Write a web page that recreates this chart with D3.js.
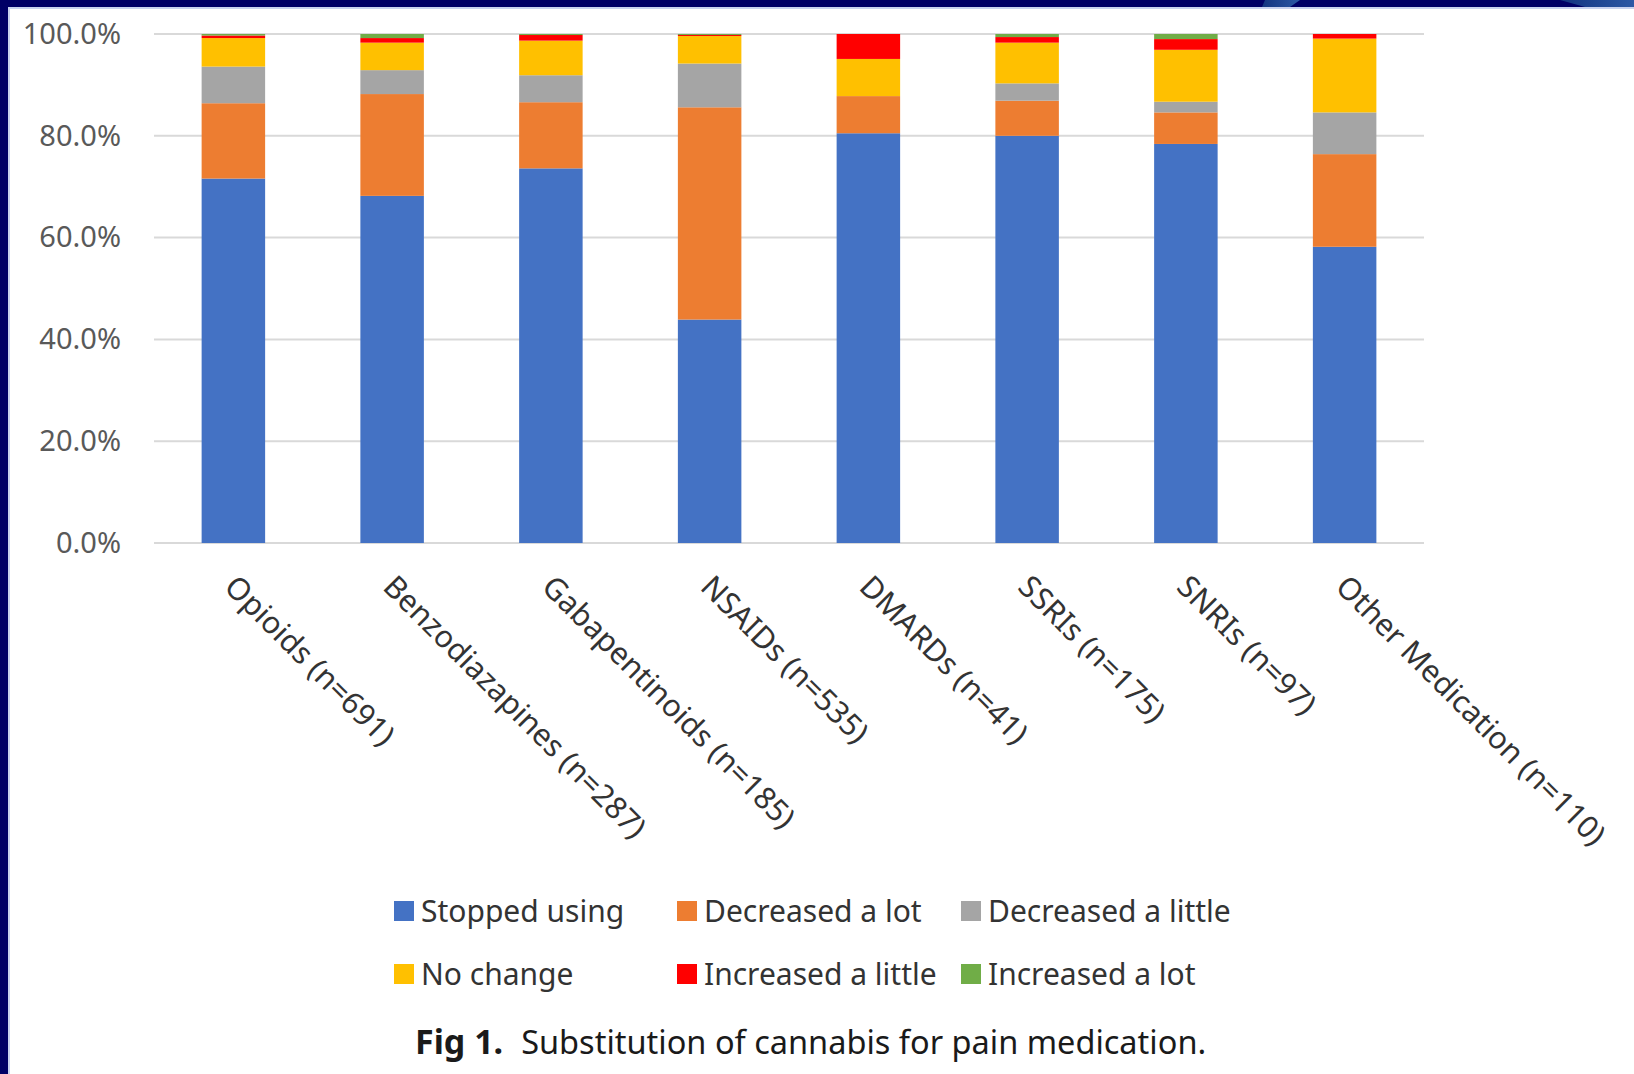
<!DOCTYPE html>
<html>
<head>
<meta charset="utf-8">
<script src="https://cdn.jsdelivr.net/npm/d3@7"></script>
<style>
  body { margin: 0; background: #ffffff; }
  svg { display: block; }
</style>
</head>
<body>
<div id="chart"></div>
<script>
// categories (x axis)
const categories = ["Opioids (n=691)", "Benzodiazapines (n=287)", "Gabapentinoids (n=185)",
    "NSAIDs (n=535)", "DMARDs (n=41)", "SSRIs (n=175)", "SNRIs (n=97)", "Other Medication (n=110)"];

// series names, bottom to top
const seriesNames = ["Stopped using", "Decreased a lot", "Decreased a little",
    "No change", "Increased a little", "Increased a lot"];
const seriesColors = ["#4472c4", "#ed7d31", "#a5a5a5", "#ffc000", "#ff0000", "#70ad47"];

// percentages per category
const stoppedUsing   = [71.6, 68.2, 73.6, 43.9, 80.5, 80.0, 78.4, 58.2];
const decreasedLot   = [14.8, 20.0, 13.0, 41.7, 7.3, 6.9, 6.2, 18.2];
const decreasedLittle = [7.2, 4.7, 5.3, 8.6, 0.0, 3.4, 2.1, 8.2];
const noChange       = [5.6, 5.4, 6.8, 5.4, 7.3, 8.0, 10.2, 14.5];
const increasedLittle = [0.5, 0.9, 1.1, 0.2, 4.9, 1.1, 2.1, 0.9];
const increasedLot   = [0.3, 0.8, 0.2, 0.2, 0.0, 0.6, 1.0, 0.0];

const yTicks = [0, 20, 40, 60, 80, 100];

const legendRows = [
    ["Stopped using", "Decreased a lot", "Decreased a little"],
    ["No change", "Increased a little", "Increased a lot"]
];

function init() {
    const W = 1634, H = 1074;
    const svg = d3.select("#chart").append("svg")
        .attr("width", W).attr("height", H);

    svg.append("rect").attr("width", W).attr("height", H).attr("fill", "#ffffff");

    // slide frame (dark navy top and left edge)
    const grad = svg.append("defs").append("linearGradient").attr("id", "fade")
        .attr("x1", "0").attr("x2", "1");
    grad.append("stop").attr("offset", "0").attr("stop-color", "#1a4a8a");
    grad.append("stop").attr("offset", "1").attr("stop-color", "#3f7fc0");
    svg.append("rect").attr("x", 0).attr("y", 0).attr("width", W).attr("height", 7).attr("fill", "#000066");
    svg.append("rect").attr("x", 0).attr("y", 0).attr("width", 8).attr("height", H).attr("fill", "#000066");
    svg.append("path").attr("d", "M1265,0 L1300,0 L1290,7 L1262,7 Z").attr("fill", "url(#fade)").attr("opacity", 0.7);
    svg.append("path").attr("d", "M1560,0 L1634,0 L1634,7 L1585,7 Z").attr("fill", "url(#fade)").attr("opacity", 0.7);
    svg.append("rect").attr("x", 8).attr("y", 7).attr("width", 2).attr("height", H - 7).attr("fill", "#c9d3ef");
    svg.append("rect").attr("x", 8).attr("y", 7).attr("width", W - 8).attr("height", 2).attr("fill", "#c9d3ef");

    const rows = categories.map(function (c, i) {
        return {
            cat: c,
            "Stopped using": stoppedUsing[i],
            "Decreased a lot": decreasedLot[i],
            "Decreased a little": decreasedLittle[i],
            "No change": noChange[i],
            "Increased a little": increasedLittle[i],
            "Increased a lot": increasedLot[i]
        };
    });

    const x = d3.scaleBand().domain(categories).range([154, 1424]).paddingInner(0.6).paddingOuter(0.3);
    const y = d3.scaleLinear().domain([0, 100]).range([543, 34]);
    const color = d3.scaleOrdinal().domain(seriesNames).range(seriesColors);

    // gridlines
    svg.append("g")
        .selectAll("line")
        .data(yTicks)
        .join("line")
        .attr("x1", 154).attr("x2", 1424)
        .attr("y1", d => y(d)).attr("y2", d => y(d))
        .attr("stroke", "#d9d9d9")
        .attr("stroke-width", 2);

    // y axis labels
    const yAxis = d3.axisLeft(y).tickValues(yTicks)
        .tickFormat(d => d.toFixed(1) + "%").tickSize(0).tickPadding(0);
    const yg = svg.append("g").attr("transform", "translate(121,0)").call(yAxis);
    yg.select(".domain").remove();
    yg.selectAll("text")
        .attr("fill", "#595959")
        .style("font-family", "Noto Sans, sans-serif")
        .style("font-size", "29px");

    // stacked bars
    const stacked = d3.stack().keys(seriesNames)(rows);
    svg.append("g")
        .selectAll("g")
        .data(stacked)
        .join("g")
        .attr("fill", d => color(d.key))
        .selectAll("rect")
        .data(d => d)
        .join("rect")
        .attr("x", d => x(d.data.cat))
        .attr("y", d => y(d[1]))
        .attr("width", x.bandwidth())
        .attr("height", d => Math.max(0, y(d[0]) - y(d[1])));

    // rotated category labels
    svg.append("g")
        .selectAll("text")
        .data(categories)
        .join("text")
        .attr("transform", d => "translate(" + (x(d) + x.bandwidth() / 2 - 3) + ",581) rotate(45)")
        .attr("text-anchor", "start")
        .attr("dy", "0.35em")
        .attr("fill", "#333333")
        .style("font-family", "Noto Sans, sans-serif")
        .style("font-size", "30.5px")
        .text(d => d);

    // legend
    const legendX = [394, 677, 961];
    const legendY = [911, 974];
    legendRows.forEach(function (row, r) {
        const g = svg.append("g");
        g.selectAll("rect")
            .data(row)
            .join("rect")
            .attr("x", (d, i) => legendX[i])
            .attr("y", legendY[r] - 10)
            .attr("width", 20).attr("height", 20)
            .attr("fill", d => color(d));
        g.selectAll("text")
            .data(row)
            .join("text")
            .attr("x", (d, i) => legendX[i] + 27)
            .attr("y", legendY[r])
            .attr("dy", "0.35em")
            .attr("fill", "#333333")
            .style("font-family", "Noto Sans, sans-serif")
            .style("font-size", "30px")
            .text(d => d);
    });

    // caption
    const cap = svg.append("text")
        .attr("x", 415).attr("y", 1054)
        .attr("fill", "#1a1a1a")
        .style("font-family", "Noto Sans, sans-serif")
        .style("font-size", "32.5px");
    cap.append("tspan").attr("font-weight", "bold").style("font-size", "34px").text("Fig 1.");
    cap.append("tspan").attr("dx", 18).text("Substitution of cannabis for pain medication.");
}

window.addEventListener('load', init);
</script>
</body>
</html>
